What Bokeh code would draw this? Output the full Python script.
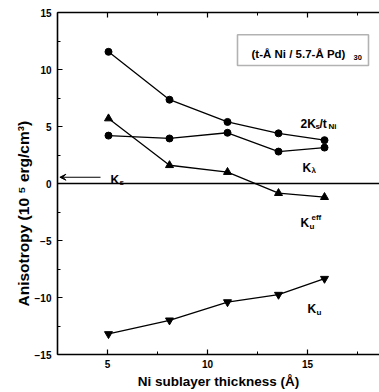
from bokeh.plotting import figure
from bokeh.models import (Label, LinearAxis, Range1d, Arrow, VeeHead, Span, Title,
                          BoxAnnotation, FixedTicker, CustomJSTickFormatter)
from bokeh.embed import file_html
from bokeh.resources import INLINE

# ---- data ----
thickness = [5.05, 8.1, 11.0, 13.55, 15.85]
two_ks_over_t = [11.55, 7.35, 5.4, 4.4, 3.8]
k_lambda = [4.2, 3.95, 4.45, 2.8, 3.15]
k_u_eff = [5.7, 1.6, 1.0, -0.85, -1.2]
k_u = [-13.2, -12.0, -10.4, -9.75, -8.35]

x_ticks = [5, 10, 15]
y_ticks = [-15, -10, -5, 0, 5, 10, 15]
x_title = "Ni sublayer thickness (Å)"
y_title = "Anisotropy (10 ⁵ erg/cm³)"
box_text = "(t-Å Ni / 5.7-Å Pd)"
box_sub = "30"
ks_surface = 0.55

FONT = "Liberation Sans"

p = figure(width=379, height=392, output_backend="svg", toolbar_location=None,
           x_range=Range1d(2.5, 18.6), y_range=Range1d(-15, 15),
           min_border_left=57, min_border_right=0, min_border_top=12,
           min_border_bottom=38, x_axis_location=None, y_axis_location=None)
p.outline_line_color = None
p.grid.visible = False
p.background_fill_color = "white"
p.border_fill_color = "white"


def style_axis(ax):
    ax.axis_line_width = 1.6
    ax.axis_line_color = "black"
    ax.major_tick_in = 5
    ax.major_tick_out = 0
    ax.minor_tick_in = 3
    ax.minor_tick_out = 0
    ax.major_tick_line_width = 1.2
    ax.minor_tick_line_width = 1
    ax.major_label_text_font = FONT
    ax.major_label_text_font_style = "bold"
    ax.major_label_text_font_size = "10px"
    ax.major_label_text_color = "black"
    ax.axis_label_text_font = FONT
    ax.axis_label_text_font_style = "bold"
    ax.axis_label_text_color = "black"


xt = FixedTicker(ticks=x_ticks, minor_ticks=[2.5, 7.5, 12.5, 17.5])
yt = FixedTicker(ticks=y_ticks, minor_ticks=[-12.5, -7.5, -2.5, 2.5, 7.5, 12.5])

bottom = LinearAxis(ticker=xt, axis_label=x_title)
style_axis(bottom)
bottom.major_label_standoff = 5
bottom.axis_label_standoff = 3
bottom.axis_label_text_font_size = "13.5px"
p.add_layout(bottom, "below")

left = LinearAxis(ticker=yt)
style_axis(left)
left.major_label_standoff = 6
p.add_layout(left, "left")

top = LinearAxis(ticker=xt, formatter=CustomJSTickFormatter(code="return ''"))
style_axis(top)
top.major_label_standoff = 0
p.add_layout(top, "above")

# y-axis title, placed a little below the frame centre as in the original
p.add_layout(Title(text=y_title, align="left", offset=48, standoff=0,
                   text_font=FONT, text_font_style="bold", text_font_size="15.5px",
                   text_color="black"), "left")

# zero line
p.add_layout(Span(location=0, dimension="width", line_color="black", line_width=1.6))

# series
lw = 1.3
p.line(thickness, two_ks_over_t, line_color="black", line_width=lw)
p.scatter(thickness, two_ks_over_t, marker="circle", size=7, color="black")
p.line(thickness, k_lambda, line_color="black", line_width=lw)
p.scatter(thickness, k_lambda, marker="circle", size=7, color="black")
p.line(thickness, k_u_eff, line_color="black", line_width=lw)
p.scatter(thickness, k_u_eff, marker="triangle", size=8, color="black")
p.line(thickness, k_u, line_color="black", line_width=lw)
p.scatter(thickness, k_u, marker="inverted_triangle", size=8, color="black")

# K_s arrow
p.add_layout(Arrow(end=VeeHead(size=6, line_color="black", fill_color="black", line_width=1),
                   x_start=4.65, y_start=ks_surface, x_end=2.62, y_end=ks_surface,
                   line_color="black", line_width=1.2))


def lab(x, y, text, size="12px", dx=0, dy=0):
    p.add_layout(Label(x=x, y=y, text=text, x_offset=dx, y_offset=dy,
                       text_font=FONT, text_font_style="bold", text_font_size=size,
                       text_color="black", text_baseline="alphabetic", text_align="left"))


SUB = "8px"
# 2K_s / t_Ni
lab(14.65, 5.25, "2K")
lab(14.65, 5.25, "s", SUB, dx=15, dy=-3)
lab(14.65, 5.25, "/t", dx=19)
lab(14.65, 5.25, "Ni", SUB, dx=28, dy=-3)
# K_lambda
lab(14.75, 1.4, "K")
lab(14.75, 1.4, "λ", SUB, dx=9, dy=-3)
# K_u^eff
lab(14.65, -3.5, "K")
lab(14.65, -3.5, "u", SUB, dx=9, dy=-3)
lab(14.65, -3.5, "eff", SUB, dx=11, dy=6)
# K_u
lab(15.0, -11.05, "K")
lab(15.0, -11.05, "u", SUB, dx=9, dy=-3)
# K_s
lab(5.15, 0.35, "K")
lab(5.15, 0.35, "s", SUB, dx=9, dy=-3)

# sample box
p.add_layout(BoxAnnotation(left=11.5, right=18.05, bottom=10.35, top=13.05,
                           fill_color=None, line_color="black", line_width=1.6))
lab(12.2, 11.35, box_text, "11.5px")
lab(12.2, 11.35, box_sub, "7.5px", dx=102, dy=-3)

open("out.html", "w").write(file_html(p, INLINE))
